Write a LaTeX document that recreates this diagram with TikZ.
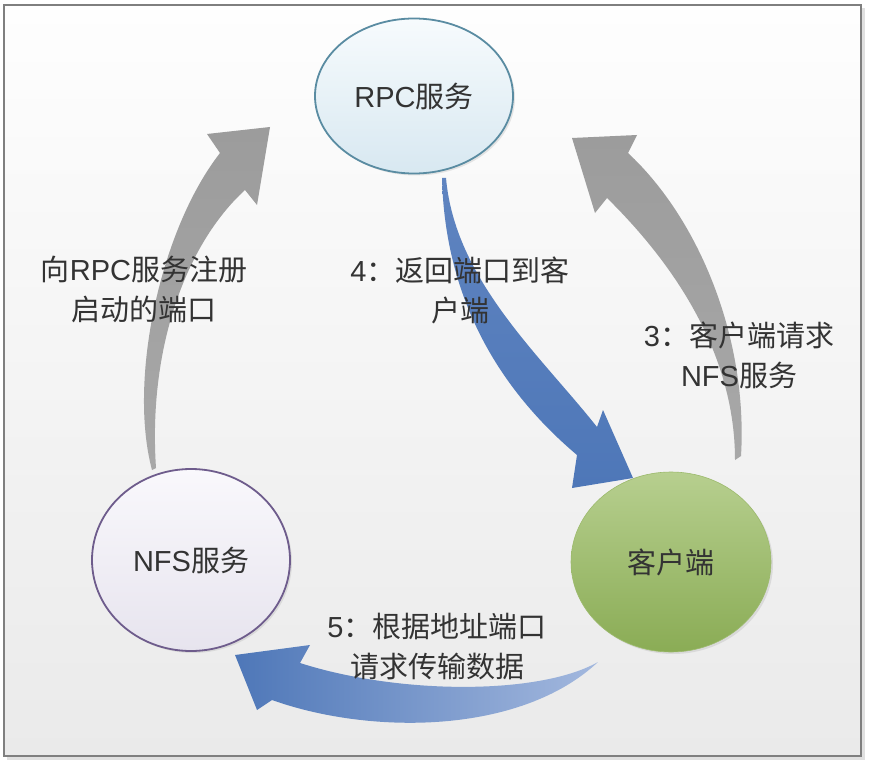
\documentclass[tikz,border=0pt]{standalone}
\usepackage{fontspec}
\setmainfont{Liberation Sans}
\newfontfamily\cjk{Noto Sans CJK SC}
\usetikzlibrary{shapes.geometric,shadows}
\definecolor{txt}{HTML}{333333}
\definecolor{framegray}{HTML}{7F7F7F}
\definecolor{arrgray}{HTML}{9C9C9C}
\definecolor{arrgraylight}{HTML}{A8A8A8}
\definecolor{arrblue}{HTML}{4E77B8}
\definecolor{arrbluemid}{HTML}{5F84C0}
\definecolor{arrbluemid2}{HTML}{6589C3}
\definecolor{arrbluelight}{HTML}{A3B8DE}
\definecolor{rpctop}{HTML}{F7FBFD}
\definecolor{rpcbot}{HTML}{D8E8F1}
\definecolor{rpcline}{HTML}{5A8CA2}
\definecolor{nfstop}{HTML}{F9F8FC}
\definecolor{nfsbot}{HTML}{E7E4EE}
\definecolor{nfsline}{HTML}{6E5C8C}
\definecolor{clitop}{HTML}{B7CF8F}
\definecolor{clibot}{HTML}{8AAC55}
\definecolor{bgtop}{HTML}{FEFEFE}
\definecolor{bgbot}{HTML}{EAEAEA}
\tikzset{
  circ/.style={ellipse, inner sep=0pt, text=txt,
    font=\fontsize{29}{36}\selectfont,
    drop shadow={opacity=0.18, shadow xshift=2pt, shadow yshift=-2pt}},
  lbl/.style={align=center, text=txt, inner sep=0pt,
    font=\fontsize{29}{40}\selectfont},
}
\begin{document}
\begin{tikzpicture}[x=1pt,y=-1pt]
\useasboundingbox (0,0) rectangle (872,762);
% frame and background
\fill[black!12] (7,8) rectangle (865,760);
\shade[top color=bgtop, bottom color=bgbot, draw=framegray, line width=2.6pt]
  (4,5) rectangle (861,756);

% ellipses
\node[circ, minimum width=198pt, minimum height=155pt,
  top color=rpctop, bottom color=rpcbot, draw=rpcline, line width=1.8pt]
  (rpc) at (414,96) {RPC{\cjk 服务}};
\node[circ, minimum width=198pt, minimum height=182pt,
  top color=nfstop, bottom color=nfsbot, draw=nfsline, line width=1.8pt]
  (nfs) at (191,560) {NFS{\cjk 服务}};
\node[circ, minimum width=200pt, minimum height=180pt,
  top color=clitop, bottom color=clibot, draw=clibot!60!clitop, line width=0.6pt]
  (cli) at (671,562) {{\cjk 客户端}};

% left gray arrow: NFS -> RPC
\shade[top color=arrgray, bottom color=arrgraylight]
  (152,470) .. controls (128,380) and (160,230) .. (220,153)
  -- (207,134) -- (270,127) -- (257,205) -- (245,190)
  .. controls (185,245) and (148,350) .. (156,468) -- cycle;

% right gray arrow: client -> RPC
\shade[top color=arrgray, bottom color=arrgraylight]
  (741,456) .. controls (748,340) and (700,220) .. (628,153)
  -- (637,135) -- (572,138) -- (595,213) -- (607,198)
  .. controls (670,260) and (735,350) .. (735,460) -- cycle;

% blue arrow 4: RPC -> client
\shade[top color=arrbluemid, bottom color=arrblue]
  (442,178) .. controls (445,300) and (500,390) .. (577,455)
  -- (572,488) -- (633,478) -- (603,410) -- (597,427)
  .. controls (540,355) and (455,280) .. (446,178) -- cycle;

% blue arrow 5: client -> NFS
\shade[left color=arrblue, middle color=arrbluemid2, right color=arrbluelight]
  (598,662) .. controls (540,695) and (400,695) .. (300,663)
  -- (310,645) -- (235,655) -- (257,710) -- (272,700)
  .. controls (370,735) and (520,735) .. (598,662) -- cycle;

% labels
\node[lbl] (l1) at (144,289) {{\cjk 向}RPC{\cjk 服务注册}\\{\cjk 启动的端口}};
\node[lbl] (l4) at (460,290) {4{\cjk ：返回端口到客}\\{\cjk 户端}};
\node[lbl] (l3) at (739,355) {3{\cjk ：客户端请求}\\NFS{\cjk 服务}};
\node[lbl] (l5) at (437,647) {5{\cjk ：根据地址端口}\\{\cjk 请求传输数据}};
\end{tikzpicture}
\end{document}
